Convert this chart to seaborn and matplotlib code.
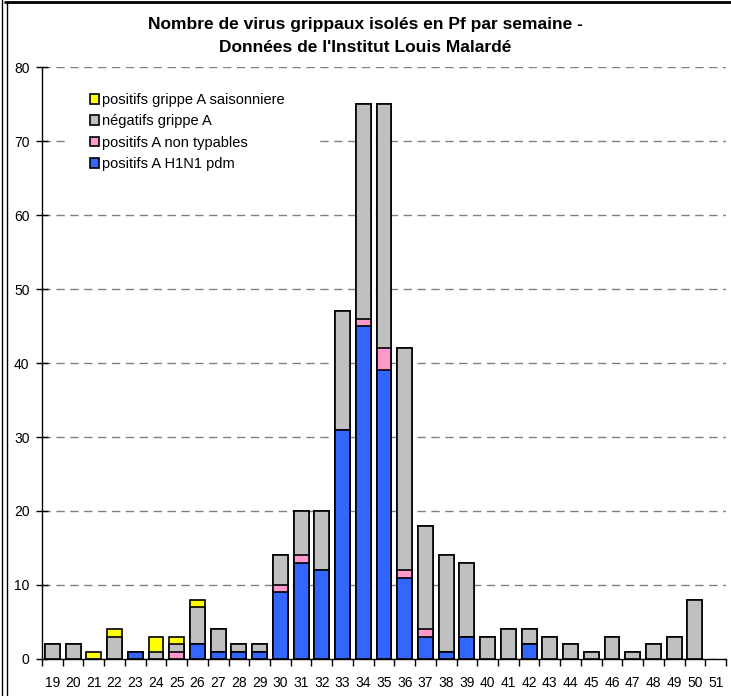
import matplotlib
matplotlib.use("Agg")
import matplotlib.pyplot as plt
import seaborn as sns
import pandas as pd
from matplotlib.patches import Patch, Rectangle
from matplotlib.lines import Line2D

weeks = [str(w) for w in range(19, 52)]
h1n1 = [0, 0, 0, 0, 1, 0, 0, 2, 1, 1, 1, 9, 13, 12, 31, 45, 39, 11, 3, 1, 3, 0, 0, 2,
        0, 0, 0, 0, 0, 0, 0, 0, 0]
non_typables = [0, 0, 0, 0, 0, 0, 1, 0, 0, 0, 0, 1, 1, 0, 0, 1, 3, 1, 1, 0, 0, 0, 0, 0,
                0, 0, 0, 0, 0, 0, 0, 0, 0]
negatifs = [2, 2, 0, 3, 0, 1, 1, 5, 3, 1, 1, 4, 6, 8, 16, 29, 33, 30, 14, 13, 10, 3, 4, 2,
            3, 2, 1, 3, 1, 2, 3, 8, 0]
saisonniere = [0, 0, 1, 1, 0, 2, 1, 1, 0, 0, 0, 0, 0, 0, 0, 0, 0, 0, 0, 0, 0, 0, 0, 0,
               0, 0, 0, 0, 0, 0, 0, 0, 0]

labels = ["positifs A H1N1 pdm", "positifs A non typables",
          "négatifs grippe A", "positifs grippe A saisonniere"]
colors = ["#3366FF", "#FF99CC", "#C0C0C0", "#FFFF00"]

df = pd.DataFrame({"semaine": weeks, "h1n1": h1n1, "nt": non_typables,
                   "neg": negatifs, "sais": saisonniere})
df["c1"] = df["h1n1"]
df["c2"] = df["c1"] + df["nt"]
df["c3"] = df["c2"] + df["neg"]
df["c4"] = df["c3"] + df["sais"]

sns.set_style("white")
plt.rcParams["font.family"] = ["Liberation Sans", "DejaVu Sans"]
plt.rcParams["text.color"] = "black"
plt.rcParams["xtick.color"] = "black"
plt.rcParams["ytick.color"] = "black"

fig = plt.figure(figsize=(7.31, 6.96), dpi=100)
ax = fig.add_axes([42 / 731, 1 - 659 / 696, (726 - 42) / 731, (659 - 67) / 696])

# plus grand cumul d'abord, les suivants par-dessus
for col, c in zip(["c4", "c3", "c2", "c1"], colors[::-1]):
    sns.barplot(data=df, x="semaine", y=col, order=weeks, color=c, saturation=1,
                edgecolor="black", linewidth=1.2, width=0.72, errorbar=None, ax=ax)
for p in ax.patches:
    if p.get_height() == 0:
        p.set_visible(False)

ax.set_xlim(-0.5, len(weeks) - 0.5)
ax.set_ylim(0, 80)
ax.set_yticks(range(0, 81, 10))
ax.set_xlabel("")
ax.set_ylabel("")
ax.set_axisbelow(True)
ax.yaxis.grid(True, color="#808080", linestyle=(0, (6, 4)), linewidth=1)
ax.xaxis.grid(False)
for s in ["top", "right"]:
    ax.spines[s].set_visible(False)
for s in ["left", "bottom"]:
    ax.spines[s].set_color("black")
    ax.spines[s].set_linewidth(1)

ax.set_xticks([i - 0.5 for i in range(len(weeks) + 1)], minor=True)
ax.tick_params(axis="x", which="major", length=0, pad=12, labelsize=10, labelcolor="black")
ax.tick_params(axis="x", which="minor", length=5, direction="out", color="black", width=1)
ax.tick_params(axis="y", which="major", length=8, direction="inout", color="black",
               width=1, pad=5, labelsize=10, labelcolor="black")
ax.tick_params(axis="both", which="both", bottom=True, left=True)

fig.text(0.5, 1 - 25 / 696, "Nombre de virus grippaux isolés en Pf par semaine -",
         ha="center", va="center", fontsize=12.5, fontweight="bold", color="black")
fig.text(0.5, 1 - 47 / 696, "Données de l'Institut Louis Malardé",
         ha="center", va="center", fontsize=12.5, fontweight="bold", color="black")

# fond blanc de la légende
ax.add_patch(Rectangle((65 / 731, 1 - 180 / 696), (318 - 65) / 731, 97 / 696,
                       transform=fig.transFigure, facecolor="white",
                       edgecolor="none", zorder=1.5))
handles = [Patch(facecolor=c, edgecolor="black", linewidth=1.2) for c in colors[::-1]]
leg = ax.legend(handles, labels[::-1], loc="upper left",
                bbox_to_anchor=(90 / 731, 1 - 93 / 696), bbox_transform=fig.transFigure,
                frameon=False, fontsize=10.5, handlelength=0.65, handleheight=0.65,
                handletextpad=0.2, labelspacing=0.5, borderaxespad=0, borderpad=0)
leg.set_zorder(5)

# cadre
fig.add_artist(Line2D([5 / 731, 1], [1 - 1.5 / 696] * 2, color="black", lw=2,
                      transform=fig.transFigure))
fig.add_artist(Line2D([1.5 / 731] * 2, [0, 1], color="black", lw=1,
                      transform=fig.transFigure))
fig.add_artist(Line2D([7 / 731] * 2, [0, 1 - 1.5 / 696], color="black", lw=1,
                      transform=fig.transFigure))

fig.savefig("out.png", dpi=100)
